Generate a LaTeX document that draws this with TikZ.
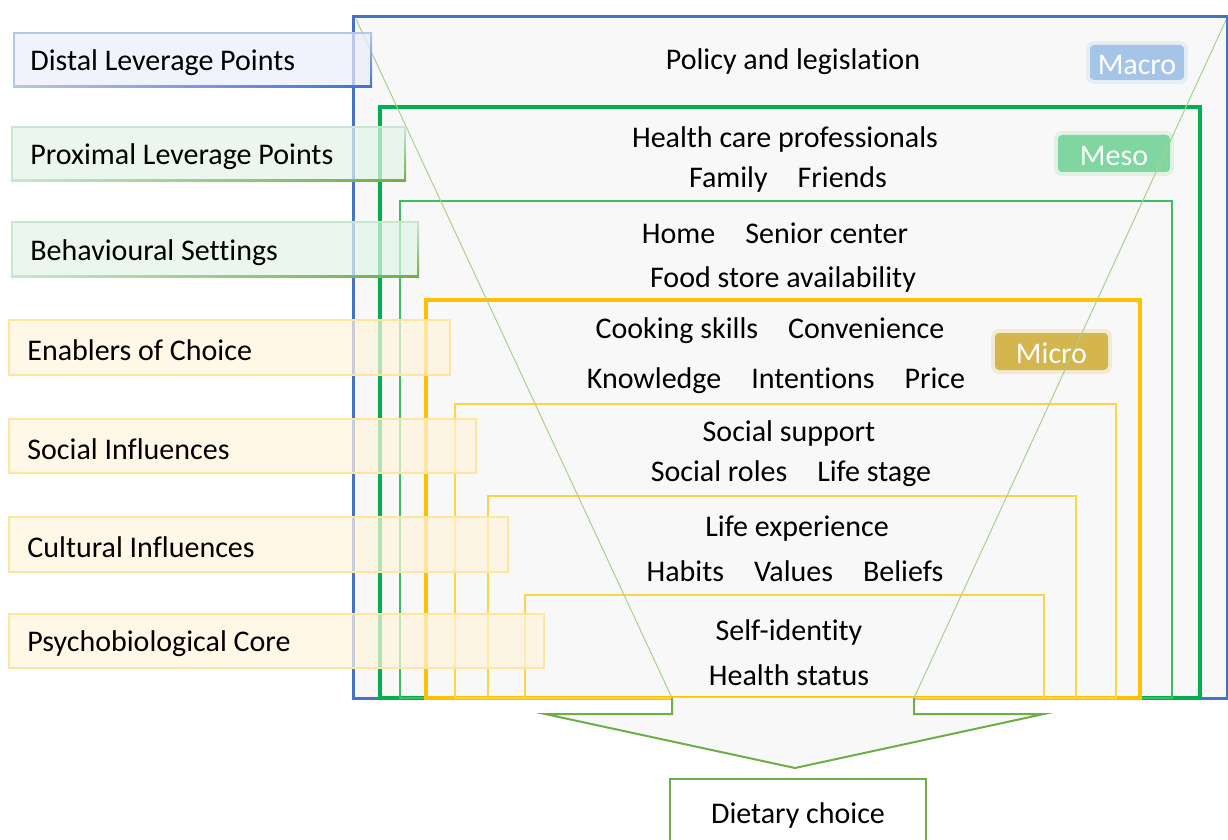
\documentclass[tikz,border=0pt]{standalone}
\usepackage{fontspec}
\setmainfont[Ligatures=NoCommon]{Carlito}
\usetikzlibrary{fit}

\definecolor{macroblue}{HTML}{4472C4}
\definecolor{mesogreen}{HTML}{00B050}
\definecolor{settinggreen}{HTML}{3CBF62}
\definecolor{microgold}{HTML}{FFC000}
\definecolor{innergold}{HTML}{FFD347}
\definecolor{arrowgreen}{HTML}{70AD47}
\definecolor{funnelgreen}{HTML}{A9D18E}
\definecolor{panelgray}{HTML}{F8F8F8}
\definecolor{bluefill}{HTML}{E9EEF9}
\definecolor{blueedge}{HTML}{B4C7E7}
\definecolor{greenfill}{HTML}{E2F4E7}
\definecolor{greenedge}{HTML}{C9E7CF}
\definecolor{goldfill}{HTML}{FFF5DC}
\definecolor{goldedge}{HTML}{FFE5A0}
\definecolor{macrotag}{HTML}{A4C5E8}
\definecolor{mesotag}{HTML}{80D6A0}
\definecolor{microtag}{HTML}{D5B54E}

\tikzset{
  txt/.style={font=\fontsize{15}{18}\selectfont},
  item/.style={txt, inner sep=0pt, yshift=-1.5pt},
  lever/.style={inner sep=0pt, line width=1pt, fill opacity=0.7},
  levertext/.style={txt, anchor=west, inner sep=0pt, yshift=-1.5pt},
  tag/.style={inner sep=0pt, rounded corners=2pt, line width=4pt, draw opacity=0.2},
  tagtext/.style={txt, text=white, inner sep=0pt},
  ring/.style={line width=1pt},
}

\begin{document}
\begin{tikzpicture}[x=0.5pt, y=-0.5pt]
\useasboundingbox (0,0) rectangle (1228,840);
\clip (0,0) rectangle (1228,840);

% nested settings, outside in
\draw[macroblue, line width=1.5pt, fill=panelgray] (353,17) rectangle (1227,698);
\draw[mesogreen, line width=2pt] (380,107) rectangle (1200,698);
\draw[settinggreen, ring] (400,201) rectangle (1172,698);
\draw[microgold, line width=2pt] (426,300) rectangle (1140,698);
\draw[innergold, ring] (455,404) rectangle (1116,698);
\draw[innergold, ring] (488,496) rectangle (1076,698);
\draw[innergold, ring] (525,595) rectangle (1044,698);

% level tags
\node[tag, fill=macrotag, draw=macrotag, fit={(1090,45)(1184,80)}] (macro) {};
\node[tagtext, yshift=-1pt] at (macro.center) {Macro};
\node[tag, fill=mesotag, draw=mesotag, fit={(1058,135)(1170,172)}] (meso) {};
\node[tagtext, yshift=-1pt] at (meso.center) {Meso};
\node[tag, fill=microtag, draw=microtag, fit={(995,333)(1108,370)}] (micro) {};
\node[tagtext, yshift=-1pt] at (micro.center) {Micro};

% funnel
\coordinate (topL) at (356,19);
\coordinate (topR) at (1226,20);
\coordinate (neckL) at (672,698);
\coordinate (neckR) at (914,698);
\draw[funnelgreen, line width=0.5pt] (topL) -- (neckL);
\draw[funnelgreen, line width=0.5pt] (topR) -- (neckR);
\fill[panelgray] (neckL) -- (672,714) -- (545,714) -- (795,768) -- (1044,714) -- (914,714) -- (neckR) -- cycle;
\draw[arrowgreen, line width=1pt] (neckL) -- (672,714) -- (545,714) -- (795,768) -- (1044,714) -- (914,714) -- (neckR);

\node[draw=arrowgreen, line width=1pt, fill=white, inner sep=0pt,
  fit={(670,779)(926,845)}] (choice) {};
\node[item] (choicetext) at (798,812) {Dietary choice};

% factors
\node[item] (policy) at (793,59) {Policy and legislation};
\node[item] (hcp) at (785,137) {Health care professionals};
\node[item] (family) at (788,177) {Family\quad Friends};
\node[item] (home) at (775,230) {Home\quad Senior center};
\node[item] (store) at (783,277) {Food store availability};
\node[item] (cooking) at (770,328) {Cooking skills\quad Convenience};
\node[item] (knowledge) at (776,378) {Knowledge\quad Intentions\quad Price};
\node[item] (support) at (789,431) {Social support};
\node[item] (roles) at (791,471) {Social roles\quad Life stage};
\node[item] (experience) at (797,526) {Life experience};
\node[item] (habits) at (795,568) {Habits\quad Values\quad Beliefs};
\node[item] (identity) at (789,629) {Self-identity};
\node[item] (status) at (789,672) {Health status};

% leverage points
\node[lever, fill=bluefill, draw=blueedge, fit={(14,33)(371,87)}] (distal) {};
\shade[left color=blueedge, right color=macroblue] (14,86) rectangle (371,88);
\shade[top color=blueedge, bottom color=macroblue] (370,33) rectangle (372,88);
\node[levertext] at ([xshift=8.5pt]distal.west) {Distal Leverage Points};

\node[lever, fill=greenfill, draw=greenedge, fit={(12,127)(405,181)}] (proximal) {};
\shade[left color=greenedge, right color=arrowgreen] (12,180) rectangle (405,182);
\shade[top color=greenedge, bottom color=arrowgreen] (404,127) rectangle (406,182);
\node[levertext] at ([xshift=9.5pt]proximal.west) {Proximal Leverage Points};

\node[lever, fill=greenfill, draw=greenedge, fit={(12,222)(418,277)}] (settings) {};
\shade[left color=greenedge, right color=arrowgreen] (12,276) rectangle (418,278);
\shade[top color=greenedge, bottom color=arrowgreen] (417,222) rectangle (419,278);
\node[levertext] at ([xshift=9.5pt]settings.west) {Behavioural Settings};

\node[lever, fill=goldfill, draw=goldedge, fit={(9,320)(450,375)}] (enablers) {};
\node[levertext] at ([xshift=9.5pt]enablers.west) {Enablers of Choice};

\node[lever, fill=goldfill, draw=goldedge, fit={(9,419)(476,473)}] (social) {};
\node[levertext] at ([xshift=9.5pt]social.west) {Social Influences};

\node[lever, fill=goldfill, draw=goldedge, fit={(9,517)(508,572)}] (cultural) {};
\node[levertext] at ([xshift=9.5pt]cultural.west) {Cultural Influences};

\node[lever, fill=goldfill, draw=goldedge, fit={(9,614)(544,668)}] (core) {};
\node[levertext] at ([xshift=9.5pt]core.west) {Psychobiological Core};
\end{tikzpicture}
\end{document}
